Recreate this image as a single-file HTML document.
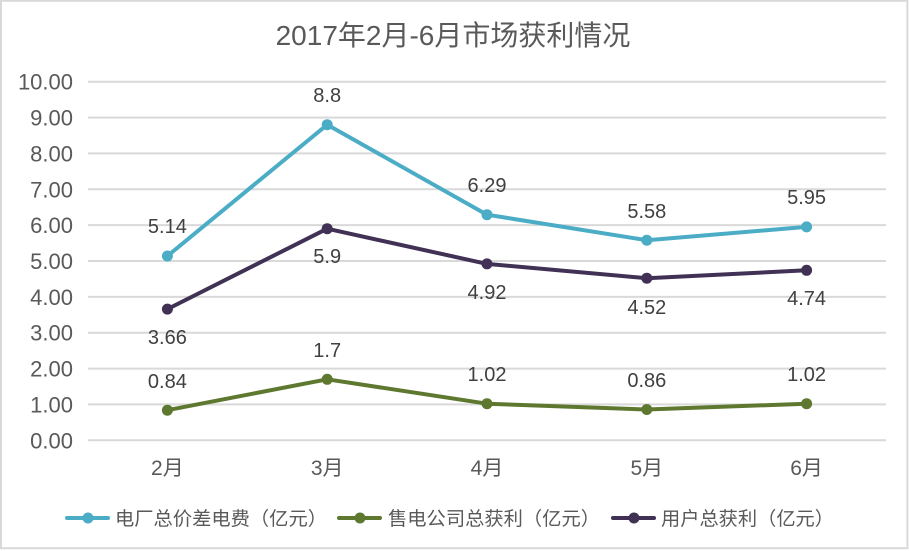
<!DOCTYPE html>
<html><head><meta charset="utf-8"><style>
html,body{margin:0;padding:0;background:#fff;width:909px;height:551px;overflow:hidden;}
svg{display:block;}
text{font-family:"Liberation Sans","Noto Sans CJK SC",sans-serif;}
</style></head><body>
<svg width="909" height="551" viewBox="0 0 909 551" xmlns="http://www.w3.org/2000/svg">
<rect x="0" y="0" width="909" height="551" fill="#fff"/>
<rect x="1" y="0.8" width="906.4" height="547.4" fill="none" stroke="#d9d9d9" stroke-width="2"/>
<text x="453" y="45" text-anchor="middle" font-size="28" fill="#595959">2017年2月-6月市场获利情况</text>
<g stroke="#d9d9d9" stroke-width="2">
<line x1="88" x2="886" y1="81.7" y2="81.7"/>
<line x1="88" x2="886" y1="117.6" y2="117.6"/>
<line x1="88" x2="886" y1="153.4" y2="153.4"/>
<line x1="88" x2="886" y1="189.3" y2="189.3"/>
<line x1="88" x2="886" y1="225.1" y2="225.1"/>
<line x1="88" x2="886" y1="261" y2="261"/>
<line x1="88" x2="886" y1="296.9" y2="296.9"/>
<line x1="88" x2="886" y1="332.7" y2="332.7"/>
<line x1="88" x2="886" y1="368.6" y2="368.6"/>
<line x1="88" x2="886" y1="404.4" y2="404.4"/>
<line x1="88" x2="886" y1="440.3" y2="440.3"/>
</g>
<g font-size="22" fill="#595959" text-anchor="end">
<text x="73" y="89.5">10.00</text>
<text x="73" y="125.5">9.00</text>
<text x="73" y="161.5">8.00</text>
<text x="73" y="197.5">7.00</text>
<text x="73" y="233">6.00</text>
<text x="73" y="269">5.00</text>
<text x="73" y="305">4.00</text>
<text x="73" y="340.5">3.00</text>
<text x="73" y="376.5">2.00</text>
<text x="73" y="412.5">1.00</text>
<text x="73" y="448.5">0.00</text>
</g>
<g font-size="21" fill="#595959" text-anchor="middle">
<text x="167.4" y="475">2月</text>
<text x="327.2" y="475">3月</text>
<text x="487" y="475">4月</text>
<text x="646.8" y="475">5月</text>
<text x="806.6" y="475">6月</text>
</g>
<polyline fill="none" stroke="#4bacc6" stroke-width="4" stroke-linejoin="round" points="167.4,256 327.2,124.7 487,214.7 646.8,240.2 806.6,226.9"/>
<g fill="#4bacc6">
<circle cx="167.4" cy="256" r="5.5"/><circle cx="327.2" cy="124.7" r="5.5"/><circle cx="487" cy="214.7" r="5.5"/><circle cx="646.8" cy="240.2" r="5.5"/><circle cx="806.6" cy="226.9" r="5.5"/>
</g>
<polyline fill="none" stroke="#403155" stroke-width="4" stroke-linejoin="round" points="167.4,309.1 327.2,228.7 487,263.9 646.8,278.2 806.6,270.3"/>
<g fill="#403155">
<circle cx="167.4" cy="309.1" r="5.5"/><circle cx="327.2" cy="228.7" r="5.5"/><circle cx="487" cy="263.9" r="5.5"/><circle cx="646.8" cy="278.2" r="5.5"/><circle cx="806.6" cy="270.3" r="5.5"/>
</g>
<polyline fill="none" stroke="#5e7830" stroke-width="4" stroke-linejoin="round" points="167.4,410.2 327.2,379.3 487,403.7 646.8,409.5 806.6,403.7"/>
<g fill="#5e7830">
<circle cx="167.4" cy="410.2" r="5.5"/><circle cx="327.2" cy="379.3" r="5.5"/><circle cx="487" cy="403.7" r="5.5"/><circle cx="646.8" cy="409.5" r="5.5"/><circle cx="806.6" cy="403.7" r="5.5"/>
</g>
<g font-size="20" fill="#404040" text-anchor="middle">
<text x="167.4" y="233">5.14</text>
<text x="327.2" y="102">8.8</text>
<text x="487" y="192">6.29</text>
<text x="646.8" y="218">5.58</text>
<text x="806.6" y="204">5.95</text>
<text x="167.4" y="344">3.66</text>
<text x="327.2" y="263">5.9</text>
<text x="487" y="299">4.92</text>
<text x="646.8" y="314">4.52</text>
<text x="806.6" y="305">4.74</text>
<text x="167.4" y="388">0.84</text>
<text x="327.2" y="357">1.7</text>
<text x="487" y="381">1.02</text>
<text x="646.8" y="387">0.86</text>
<text x="806.6" y="381">1.02</text>
</g>
<line x1="67" x2="108" y1="518" y2="518" stroke="#4bacc6" stroke-width="4" stroke-linecap="round"/>
<circle cx="88" cy="518" r="5.5" fill="#4bacc6"/>
<text x="115" y="525" font-size="19" fill="#595959" textLength="212" lengthAdjust="spacingAndGlyphs">电厂总价差电费（亿元）</text>
<line x1="339" x2="380" y1="518" y2="518" stroke="#5e7830" stroke-width="4" stroke-linecap="round"/>
<circle cx="360" cy="518" r="5.5" fill="#5e7830"/>
<text x="388" y="525" font-size="19" fill="#595959" textLength="212" lengthAdjust="spacingAndGlyphs">售电公司总获利（亿元）</text>
<line x1="613" x2="654" y1="518" y2="518" stroke="#403155" stroke-width="4" stroke-linecap="round"/>
<circle cx="634" cy="518" r="5.5" fill="#403155"/>
<text x="661" y="525" font-size="19" fill="#595959" textLength="173" lengthAdjust="spacingAndGlyphs">用户总获利（亿元）</text>
</svg>
</body></html>
